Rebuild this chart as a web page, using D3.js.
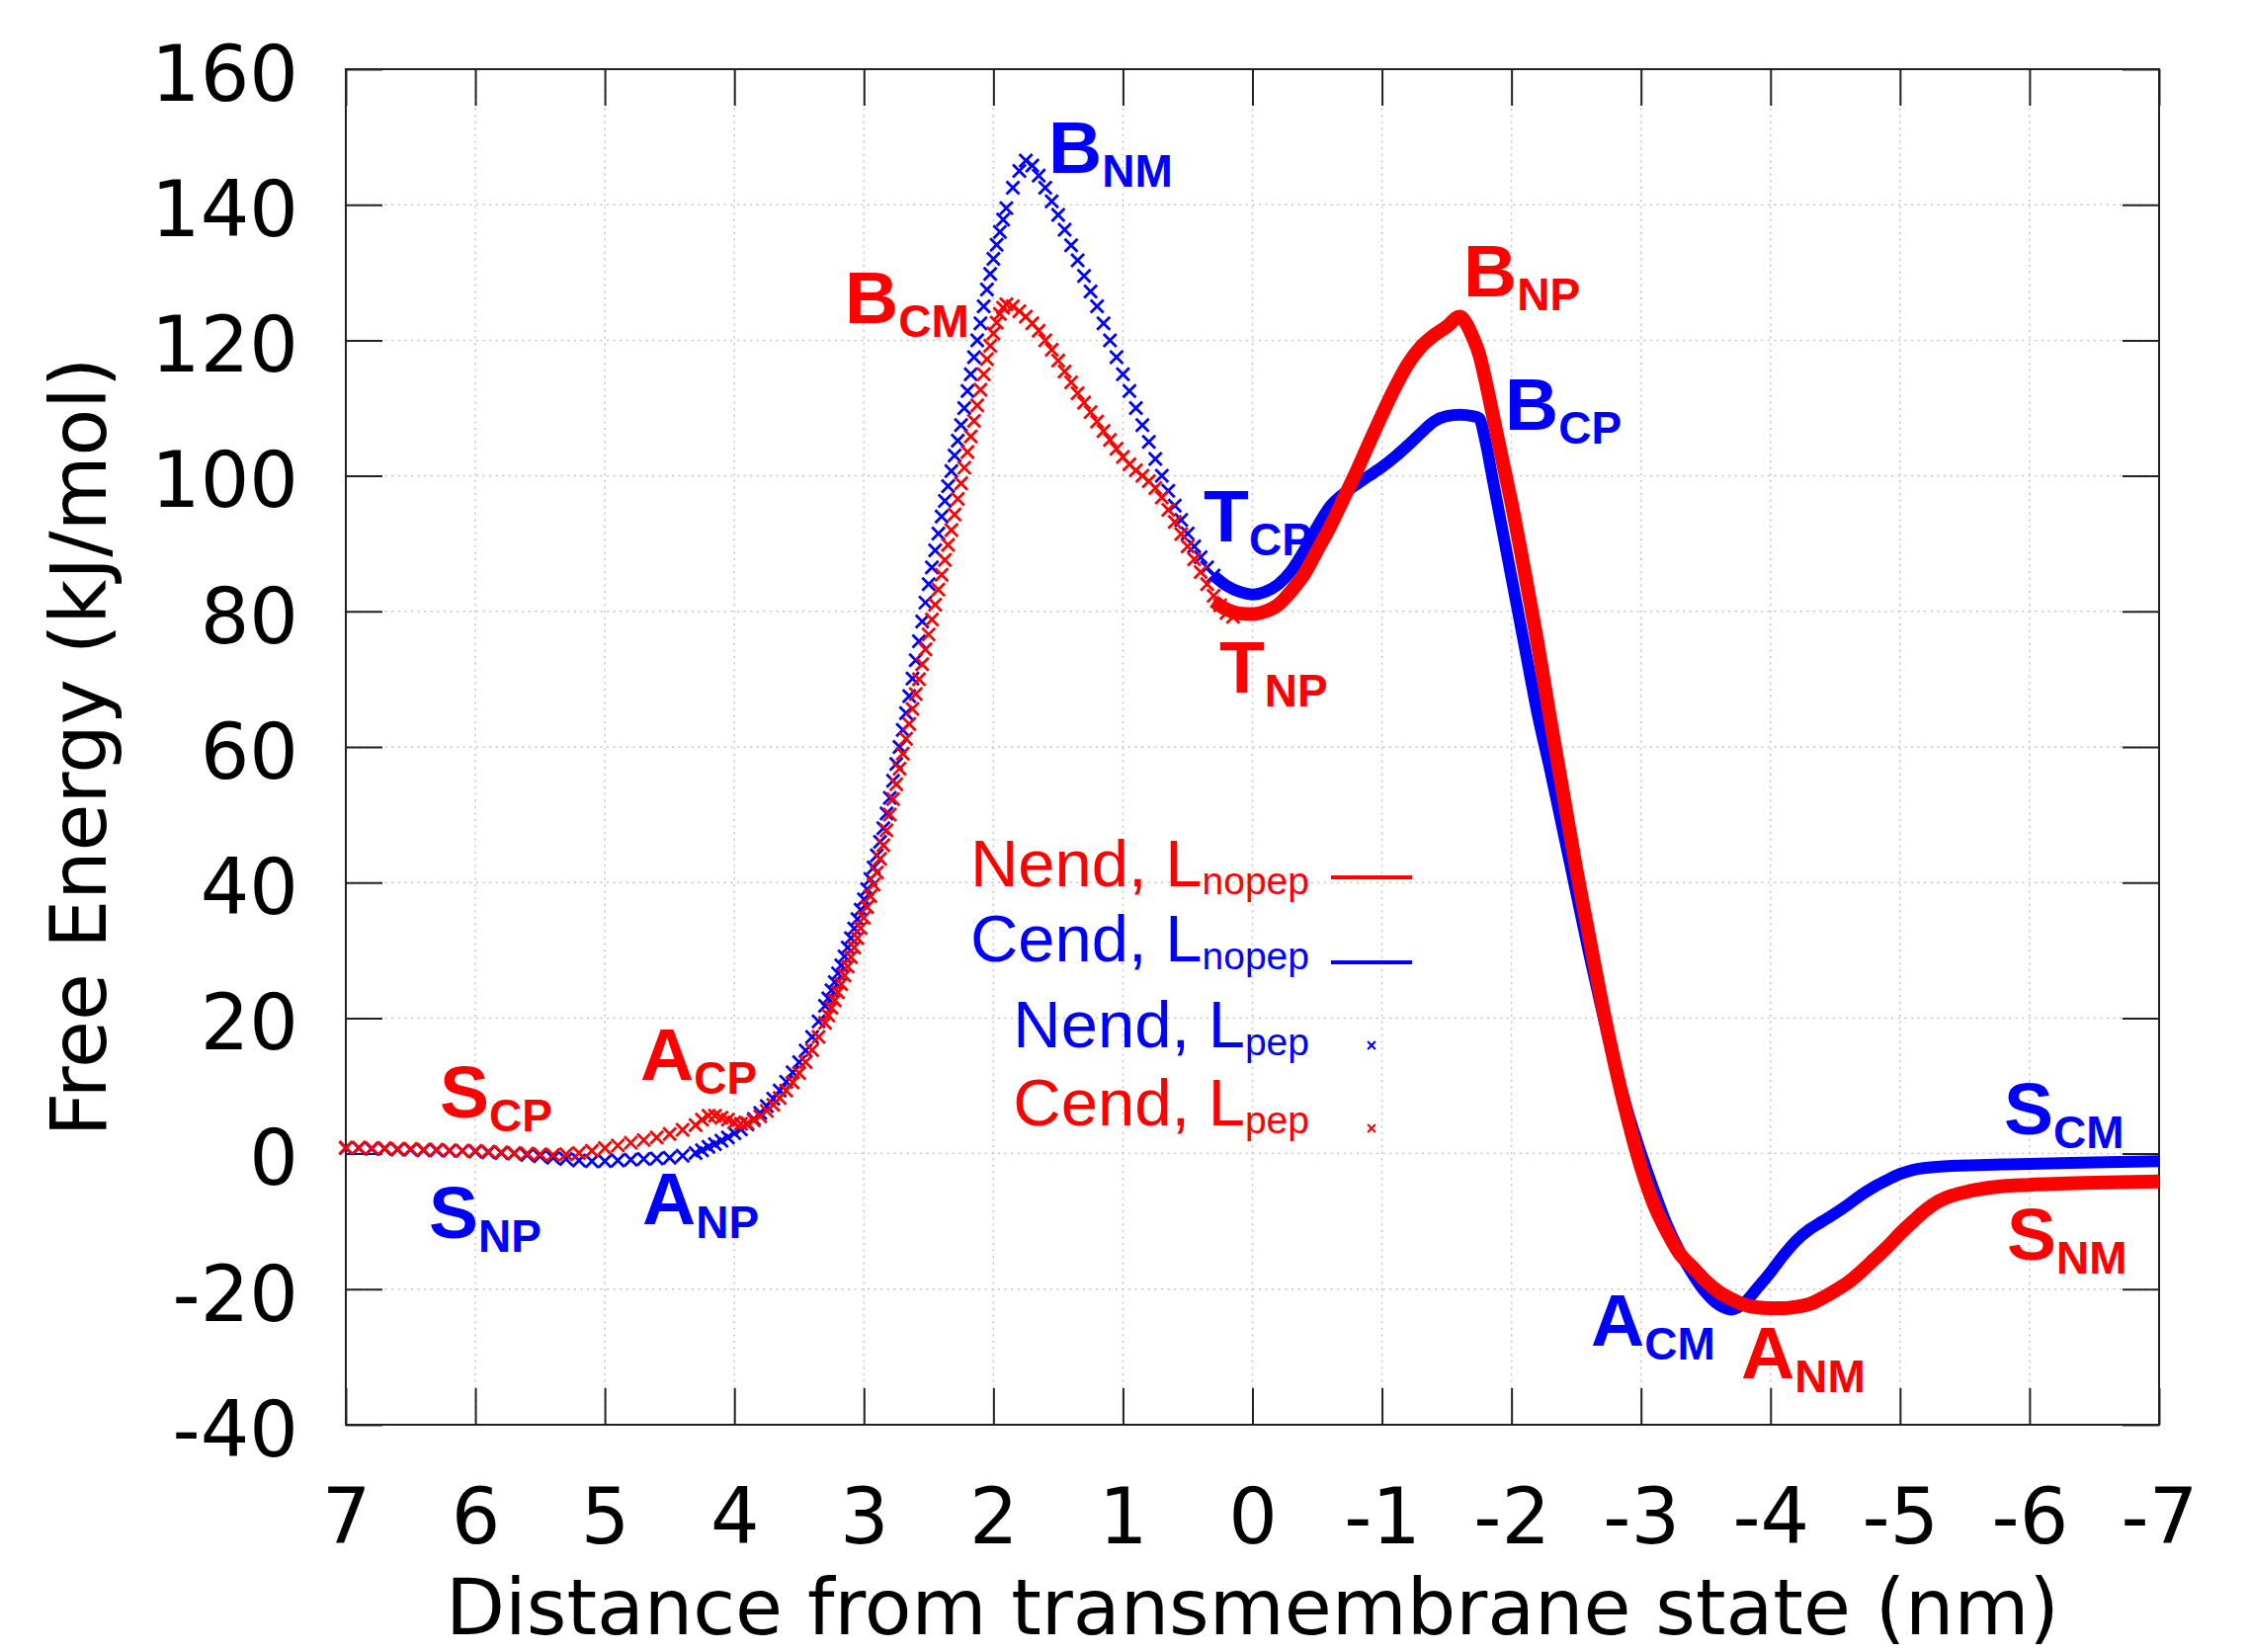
<!DOCTYPE html>
<html>
<head>
<meta charset="utf-8">
<script src="https://cdn.jsdelivr.net/npm/d3@7"></script>
<style>
body { margin: 0; background: #fff; }
svg { display: block; }
</style>
</head>
<body>
<svg id="svg"></svg>
<script>
// Nend, Lpep (blue crosses)
var nendPepX = [7.0,6.9,6.8,6.7,6.6,6.5,6.4,6.3,6.2,6.1,6.0,5.9,5.8,5.7,5.6,5.5,5.4,5.3,5.2,5.1,5.0,4.9,4.8,4.7,4.6,4.5,4.4,4.3,
  4.25,4.2,4.15,4.1,4.05,4.0,3.95,3.9,3.85,3.8,3.75,3.7,3.65,3.6,3.55,3.5,3.45,3.4,3.35,
  3.3,3.275,3.25,3.225,3.2,3.175,3.15,3.125,3.1,3.075,3.05,3.025,3.0,2.975,2.95,2.925,2.9,2.875,2.85,2.825,2.8,2.775,2.75,2.725,2.7,2.675,2.65,2.625,2.6,2.575,2.55,2.525,2.5,2.475,2.45,2.425,2.4,2.375,2.35,2.325,2.3,2.275,2.25,2.225,2.2,2.175,2.15,2.125,2.1,2.075,2.05,2.025,2.0,1.975,1.95,1.925,1.9,
  1.85,1.8,1.75,1.7,1.65,1.6,1.55,1.5,1.45,1.4,1.35,1.3,1.25,1.2,1.15,1.1,1.05,1.0,0.95,0.9,0.85,0.8,0.75,0.7,0.65,0.6,0.55,0.5,0.45,0.4,0.35,0.3];
var nendPepY = [0.8,0.8,0.7,0.7,0.6,0.6,0.5,0.5,0.4,0.4,0.3,0.2,0.1,0.0,-0.2,-0.4,-0.6,-0.8,-1.0,-1.1,-1.1,-1.0,-0.9,-0.8,-0.7,-0.6,-0.3,0.1,
  0.5,1.0,1.4,1.9,2.4,3.0,3.6,4.3,5.1,6.0,7.0,8.1,9.3,10.6,12.0,13.5,15.2,17.2,19.5,
  21.8,22.9,24.1,25.3,26.6,27.8,29.1,30.4,31.8,33.2,34.6,36.0,37.5,39.0,40.5,42.2,44.0,46.0,48.0,50.2,52.5,55.0,57.5,60.0,62.5,65.0,67.5,70.1,72.8,75.6,78.5,81.3,84.0,86.5,89.0,91.5,94.0,96.3,98.5,100.7,103.0,105.2,107.5,110.0,112.5,115.0,117.5,120.0,122.5,125.0,127.5,129.8,132.0,134.1,136.0,137.8,139.5,
  142.5,145.0,146.5,145.8,144.3,142.5,140.5,138.5,136.3,134.0,131.8,129.5,127.2,125.0,122.5,120.0,117.5,115.0,112.5,110.0,107.5,105.0,102.5,100.0,97.8,95.6,93.5,91.5,89.6,88.0,86.5,85.3];

// Cend, Lpep (red crosses)
var cendPepX = [7.0,6.9,6.8,6.7,6.6,6.5,6.4,6.3,6.2,6.1,6.0,5.9,5.8,5.7,5.6,5.5,5.4,5.3,5.2,5.1,5.0,4.9,4.8,4.7,4.6,4.5,4.4,4.3,
  4.25,4.2,4.15,4.1,4.05,4.0,3.95,3.9,3.85,3.8,3.75,3.7,3.65,3.6,3.55,3.5,3.45,3.4,3.35,
  3.3,3.275,3.25,3.225,3.2,3.175,3.15,3.125,3.1,3.075,3.05,3.025,3.0,2.975,2.95,2.925,2.9,2.875,2.85,2.825,2.8,2.775,2.75,2.725,2.7,2.675,2.65,2.625,2.6,2.575,2.55,2.525,2.5,2.475,2.45,2.425,2.4,2.375,2.35,2.325,2.3,2.275,2.25,2.225,2.2,2.175,2.15,2.125,2.1,2.075,2.05,2.025,2.0,1.975,1.95,1.925,1.9,
  1.85,1.8,1.75,1.7,1.65,1.6,1.55,1.5,1.45,1.4,1.35,1.3,1.25,1.2,1.15,1.1,1.05,1.0,0.95,0.9,0.85,0.8,0.75,0.7,0.65,0.6,0.55,0.5,0.45,0.4,0.35,0.3,0.25,0.2,0.15];
var cendPepY = [0.9,0.9,0.8,0.8,0.7,0.7,0.6,0.6,0.5,0.4,0.4,0.3,0.2,0.1,0.0,-0.1,-0.2,-0.1,0.1,0.4,0.8,1.2,1.6,2.0,2.4,2.9,3.5,4.2,
  5.0,5.6,5.6,5.3,5.0,4.6,4.4,4.5,4.9,5.5,6.3,7.2,8.2,9.3,10.5,11.9,13.5,15.3,17.2,
  19.3,20.4,21.5,22.6,23.8,25.0,26.3,27.6,29.0,30.4,31.8,33.3,34.8,36.4,38.0,39.7,41.5,43.5,45.5,47.7,50.0,52.3,54.5,56.8,59.0,61.2,63.4,65.6,67.8,70.0,72.2,74.4,76.6,78.8,81.0,83.2,85.4,87.6,89.8,92.0,94.3,96.6,98.9,101.2,103.5,105.8,108.1,110.4,112.7,115.0,117.2,119.2,121.0,122.6,123.9,124.8,125.3,
  125.0,124.3,123.5,122.5,121.4,120.0,118.6,117.0,115.4,113.8,112.2,110.8,109.4,108.0,106.6,105.3,104.0,102.8,101.7,100.8,100.0,99.2,98.2,96.8,95.0,93.2,91.4,89.6,87.7,85.8,84.0,82.3,80.9,79.8,79.2];

// Cend, Lnopep (blue line)
var cendNopepX = [0.3,0.2,0.1,0.0,-0.1,-0.2,-0.3,-0.4,-0.5,-0.6,-0.7,-0.8,-0.9,-1.0,-1.1,-1.2,-1.3,-1.4,-1.5,-1.6,-1.7,-1.75,-1.8,-1.85,-1.9,-1.95,-2.0,-2.1,-2.2,-2.3,-2.4,-2.5,-2.6,-2.7,-2.8,-2.9,-3.0,-3.1,-3.2,-3.3,-3.4,-3.5,-3.6,-3.7,-3.8,-3.9,-4.0,-4.1,-4.2,-4.3,-4.4,-4.5,-4.6,-4.7,-4.8,-4.9,-5.0,-5.1,-5.2,-5.4,-5.6,-6.0,-6.5,-7.0];
var cendNopepY = [85.3,83.8,82.9,82.5,82.9,84.0,86.0,89.0,92.5,95.5,97.3,98.7,100.0,101.3,102.8,104.5,106.3,108.0,108.8,109.0,108.8,108.5,105.0,100.0,95.0,90.0,85.0,75.0,65.0,56.5,47.5,38.5,29.5,21.0,13.0,6.0,0.0,-5.5,-10.5,-14.5,-17.8,-20.5,-22.3,-23.0,-22.0,-19.8,-17.5,-15.0,-12.8,-11.2,-10.0,-8.8,-7.5,-6.1,-4.9,-3.9,-3.0,-2.4,-2.1,-1.8,-1.7,-1.5,-1.3,-1.1];

// Nend, Lnopep (red line)
var nendNopepX = [0.3,0.2,0.1,0.0,-0.1,-0.2,-0.3,-0.4,-0.5,-0.6,-0.7,-0.8,-0.9,-1.0,-1.1,-1.2,-1.3,-1.4,-1.5,-1.6,-1.65,-1.7,-1.75,-1.8,-1.85,-1.9,-1.95,-2.0,-2.1,-2.2,-2.3,-2.4,-2.5,-2.6,-2.7,-2.8,-2.9,-3.0,-3.1,-3.2,-3.3,-3.4,-3.5,-3.6,-3.7,-3.8,-3.9,-4.0,-4.1,-4.2,-4.3,-4.4,-4.5,-4.6,-4.7,-4.8,-4.9,-5.0,-5.1,-5.2,-5.3,-5.4,-5.5,-5.6,-5.8,-6.0,-6.5,-7.0];
var nendNopepY = [81.5,80.3,79.7,79.6,80.0,81.0,83.0,85.5,89.0,92.5,96.5,100.5,104.8,109.0,113.0,116.5,119.0,120.7,122.0,123.5,122.5,120.5,118.0,114.0,109.5,105.0,100.5,96.0,86.0,75.5,64.0,53.0,42.0,32.0,22.0,13.0,5.0,-2.0,-7.5,-11.5,-14.8,-16.8,-18.8,-20.4,-21.5,-22.3,-22.7,-22.8,-22.8,-22.6,-22.2,-21.3,-20.2,-19.0,-17.4,-15.6,-13.8,-11.8,-10.0,-8.3,-7.0,-6.2,-5.7,-5.3,-4.8,-4.6,-4.3,-4.1];

// point labels
var labelMain = ["B","B","B","B","T","T","A","S","S","A","A","A","S","S"];
var labelSub  = ["NM","CM","NP","CP","CP","NP","CP","CP","NP","NP","CM","NM","CM","NM"];
var labelCol  = ["blue","red","red","blue","blue","red","red","red","blue","blue","blue","red","blue","red"];
var labelX    = [1.575,3.147,-1.629,-1.95,0.377,0.256,4.726,6.275,6.359,4.711,-2.613,-3.773,-5.802,-5.825];
var labelY    = [144.7,122.5,126.5,106.8,90.3,68.0,10.9,5.3,-12.45,-10.4,-28.3,-33.1,2.9,-15.7];

// legend
var legendMain = ["Nend, L","Cend, L","Nend, L","Cend, L"];
var legendSub  = ["nopep","nopep","pep","pep"];
var legendCol  = ["red","blue","blue","red"];
var legendKind = ["line","line","cross","cross"];

var xTicks = [7,6,5,4,3,2,1,0,-1,-2,-3,-4,-5,-6,-7];
var yTicks = [-40,-20,0,20,40,60,80,100,120,140,160];

var W = 2275, H = 1672;
var RED = "#ff0000", BLUE = "#0000ff";
function col(c) { return c == "red" ? RED : BLUE; }

var svg = d3.select("#svg").attr("width", W).attr("height", H);
svg.append("rect").attr("width", W).attr("height", H).attr("fill", "#fff");

var x = d3.scaleLinear().domain([7, -7]).range([350, 2185]);
var y = d3.scaleLinear().domain([-40, 160]).range([1442, 70]);

// grid
var grid = svg.append("g").attr("stroke", "#c4c4c4").attr("stroke-width", 1.5).attr("stroke-dasharray", "2,4.6");
grid.selectAll(".gx").data(xTicks.slice(1, -1)).enter().append("line")
    .attr("x1", function(d){return x(d);}).attr("x2", function(d){return x(d);})
    .attr("y1", y(160)).attr("y2", y(-40));
grid.selectAll(".gy").data(yTicks.slice(1, -1)).enter().append("line")
    .attr("y1", function(d){return y(d);}).attr("y2", function(d){return y(d);})
    .attr("x1", x(7)).attr("x2", x(-7));

// axes with inward ticks
var fontAxis = "'DejaVu Sans', sans-serif";
function styleAxis(g) {
    g.select(".domain").remove();
    g.selectAll(".tick line").attr("stroke", "#222").attr("stroke-width", 2);
    g.selectAll("text").attr("fill", "#000").style("font-family", fontAxis).style("font-size", "78px");
}
svg.append("g").attr("transform", "translate(0," + y(-40) + ")")
    .call(d3.axisBottom(x).tickValues(xTicks).tickSize(-37).tickSizeOuter(0).tickPadding(64.6).tickFormat(function(d){return String(d);}))
    .call(styleAxis);
svg.append("g").attr("transform", "translate(0," + y(160) + ")")
    .call(d3.axisTop(x).tickValues(xTicks).tickSize(-37).tickSizeOuter(0).tickFormat(""))
    .call(styleAxis);
svg.append("g").attr("transform", "translate(" + x(7) + ",0)")
    .call(d3.axisLeft(y).tickValues(yTicks).tickSize(-37).tickSizeOuter(0).tickPadding(48).tickFormat(function(d){return String(d);}))
    .call(styleAxis)
    .selectAll("text").attr("dy", "0.4em");
svg.append("g").attr("transform", "translate(" + x(-7) + ",0)")
    .call(d3.axisRight(y).tickValues(yTicks).tickSize(-37).tickSizeOuter(0).tickFormat(""))
    .call(styleAxis);

// border
svg.append("rect").attr("x", x(7)).attr("y", y(160))
    .attr("width", x(-7) - x(7)).attr("height", y(-40) - y(160))
    .attr("fill", "none").attr("stroke", "#222").attr("stroke-width", 2);

// titles
svg.append("text").attr("x", (x(7) + x(-7)) / 2).attr("y", 1654)
    .attr("text-anchor", "middle").style("font-family", fontAxis).style("font-size", "78px")
    .text("Distance from transmembrane state (nm)");
svg.append("text").attr("transform", "translate(107," + (y(160) + y(-40)) / 2 + ") rotate(-90)")
    .attr("text-anchor", "middle").style("font-family", fontAxis).style("font-size", "78px")
    .text("Free Energy (kJ/mol)");

// data
function zip(xs, ys) { return xs.map(function(v, i){ return [v, ys[i]]; }); }
var crossPath = "M-6.5,-6.5L6.5,6.5M-6.5,6.5L6.5,-6.5";
var plot = svg.append("g");

function drawCrosses(pts, c) {
    plot.append("g").selectAll("path").data(pts).enter().append("path")
        .attr("d", crossPath)
        .attr("transform", function(d){ return "translate(" + x(d[0]) + "," + y(d[1]) + ")"; })
        .attr("stroke", c).attr("stroke-width", 2.8).attr("fill", "none");
}
var line = d3.line().x(function(d){return x(d[0]);}).y(function(d){return y(d[1]);}).curve(d3.curveMonotoneX);
function drawLine(pts, c, w) {
    plot.append("path").datum(pts).attr("d", line)
        .attr("fill", "none").attr("stroke", c).attr("stroke-width", w)
        .attr("stroke-linejoin", "round");
}
drawCrosses(zip(nendPepX, nendPepY), BLUE);
drawCrosses(zip(cendPepX, cendPepY), RED);
drawLine(zip(cendNopepX, cendNopepY), BLUE, 12);
drawLine(zip(nendNopepX, nendNopepY), RED, 14);

// point labels
var fontLab = "'Liberation Sans', Arial, sans-serif";
labelMain.forEach(function(m, i) {
    var t = svg.append("text").attr("x", x(labelX[i])).attr("y", y(labelY[i]))
        .attr("fill", col(labelCol[i])).style("font-family", fontLab).style("font-weight", "bold");
    t.append("tspan").style("font-size", "75px").text(m);
    t.append("tspan").attr("dy", 14).style("font-size", "46px").text(labelSub[i]);
});

// legend
var legBase = [897, 973, 1060, 1139];
var legKeyY = [888, 974, 1058, 1142];
legendMain.forEach(function(m, i) {
    var t = svg.append("text").attr("x", 1325).attr("y", legBase[i]).attr("text-anchor", "end")
        .attr("fill", col(legendCol[i])).style("font-family", fontLab);
    t.append("tspan").style("font-size", "67px").text(m);
    t.append("tspan").attr("dy", 8).style("font-size", "39px").text(legendSub[i]);
    if (legendKind[i] == "line") {
        svg.append("line").attr("x1", 1347).attr("x2", 1429).attr("y1", legKeyY[i]).attr("y2", legKeyY[i])
            .attr("stroke", col(legendCol[i])).attr("stroke-width", 4);
    } else {
        svg.append("path").attr("d", crossPath).attr("transform", "translate(1388," + legKeyY[i] + ") scale(0.6)")
            .attr("stroke", col(legendCol[i])).attr("stroke-width", 3.5).attr("fill", "none");
    }
});
</script>
</body>
</html>
